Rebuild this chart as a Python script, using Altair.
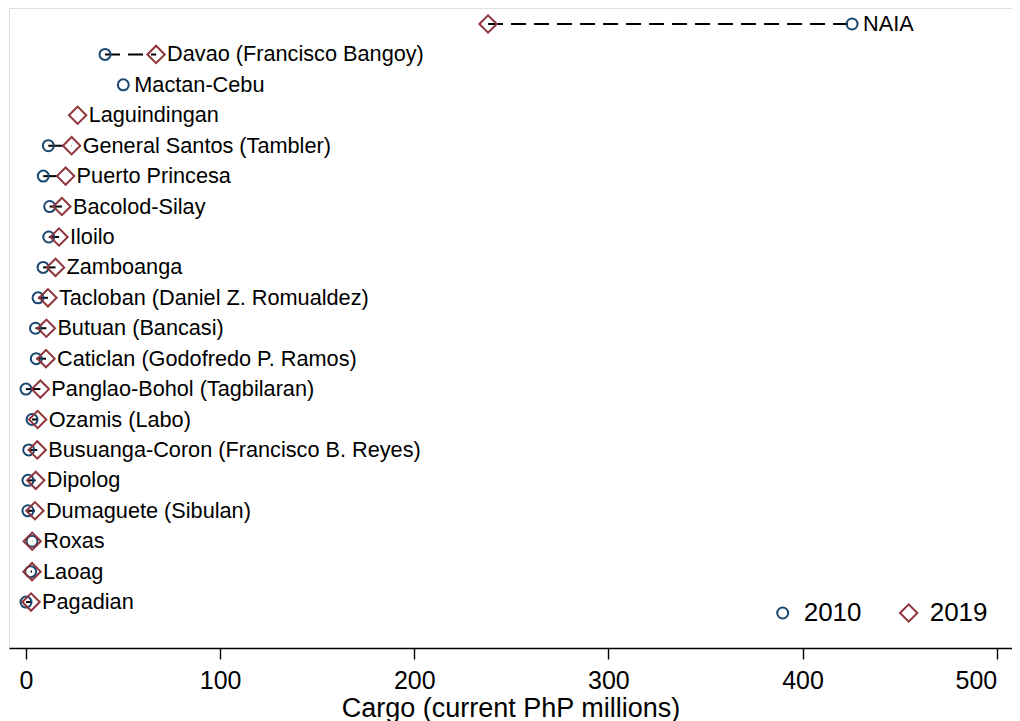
import altair as alt
import pandas as pd

airports = [
    "NAIA", "Davao (Francisco Bangoy)", "Mactan-Cebu", "Laguindingan",
    "General Santos (Tambler)", "Puerto Princesa", "Bacolod-Silay", "Iloilo",
    "Zamboanga", "Tacloban (Daniel Z. Romualdez)", "Butuan (Bancasi)",
    "Caticlan (Godofredo P. Ramos)", "Panglao-Bohol (Tagbilaran)", "Ozamis (Labo)",
    "Busuanga-Coron (Francisco B. Reyes)", "Dipolog", "Dumaguete (Sibulan)",
    "Roxas", "Laoag", "Pagadian",
]
cargo_2010 = [425.5, 40.7, 50.1, None, 11.5, 8.9, 12.2, 11.7, 8.8, 6.2, 4.9, 5.3,
              0.0, 3.1, 1.4, 1.0, 1.0, 3.1, 2.4, 0.0]
cargo_2019 = [238.0, 67.0, None, 26.6, 23.5, 20.4, 18.5, 17.0, 15.2, 11.3, 10.5, 10.3,
              7.4, 6.0, 5.8, 5.0, 4.6, 3.2, 3.1, 2.6]
years = ["2010", "2019"]
x_ticks = [0, 100, 200, 300, 400, 500]

FONT = "Liberation Sans"
NAVY = "#1a476f"
MAROON = "#90353b"

wide = pd.DataFrame({"airport": airports, "v2010": cargo_2010, "v2019": cargo_2019})
wide["idx"] = range(len(wide))
wide["hi"] = wide[["v2010", "v2019"]].max(axis=1)
wide["lo"] = wide[["v2010", "v2019"]].min(axis=1)
both = wide.dropna(subset=["v2010", "v2019"])

long = pd.concat([
    pd.DataFrame({"airport": airports, "idx": range(len(airports)), "year": years[0], "value": cargo_2010}),
    pd.DataFrame({"airport": airports, "idx": range(len(airports)), "year": years[1], "value": cargo_2019}),
]).dropna(subset=["value"])

xscale = alt.Scale(domain=[-8.76, 507.88], nice=False, zero=False)
yscale = alt.Scale(domain=[-0.526, 20.51], nice=False, zero=False, reverse=True)

xaxis = alt.Axis(
    values=x_ticks, format="d", grid=False, domainColor="black", domainWidth=1.4,
    tickColor="black", tickWidth=1.4, tickSize=11, labelFontSize=25, labelFont=FONT,
    labelColor="black", labelFlush=16, labelFlushOffset=0, labelBaseline="middle",
    labelPadding=21,
    title="Cargo (current PhP millions)", titleFont=FONT, titleFontSize=27,
    titleFontWeight="normal", titleColor="black", titleBaseline="middle", titleY=60,
)

legend = alt.Legend(title=None, orient="none", legendX=760.7, legendY=592,
                    direction="horizontal", labelFontSize=26, labelFont=FONT,
                    labelColor="black", symbolSize=150, symbolStrokeWidth=2,
                    labelOffset=8, columnPadding=34, padding=0)

rules = alt.Chart(both).mark_rule(strokeDash=[15, 8], strokeWidth=2, color="black").encode(
    x=alt.X("lo:Q", scale=xscale, axis=xaxis),
    x2="hi:Q",
    y=alt.Y("idx:Q", scale=yscale, axis=None),
)

points = alt.Chart(long).mark_point(filled=False, strokeWidth=2, opacity=1).encode(
    x=alt.X("value:Q", scale=xscale, axis=xaxis),
    y=alt.Y("idx:Q", scale=yscale, axis=None),
    color=alt.Color("year:N", scale=alt.Scale(domain=years, range=[NAVY, MAROON]), legend=legend),
    shape=alt.Shape("year:N", scale=alt.Scale(domain=years, range=["circle", "diamond"]), legend=legend),
    size=alt.Size("year:N", scale=alt.Scale(domain=years, range=[121, 300]), legend=None),
)

labels = alt.Chart(wide).mark_text(align="left", baseline="middle", dx=11, fontSize=21.7,
                                   font=FONT, color="black").encode(
    x=alt.X("hi:Q", scale=xscale, axis=xaxis),
    y=alt.Y("idx:Q", scale=yscale, axis=None),
    text="airport:N",
)

chart = alt.layer(rules, points, labels).properties(
    width=1003, height=640,
    autosize=alt.AutoSizeParams(type="none"),
    padding={"left": 1, "top": 0, "right": 0, "bottom": 73},
).configure_view(stroke=None).configure(background="white")

chart.save("out.html", embed_options={"renderer": "svg", "actions": False})
